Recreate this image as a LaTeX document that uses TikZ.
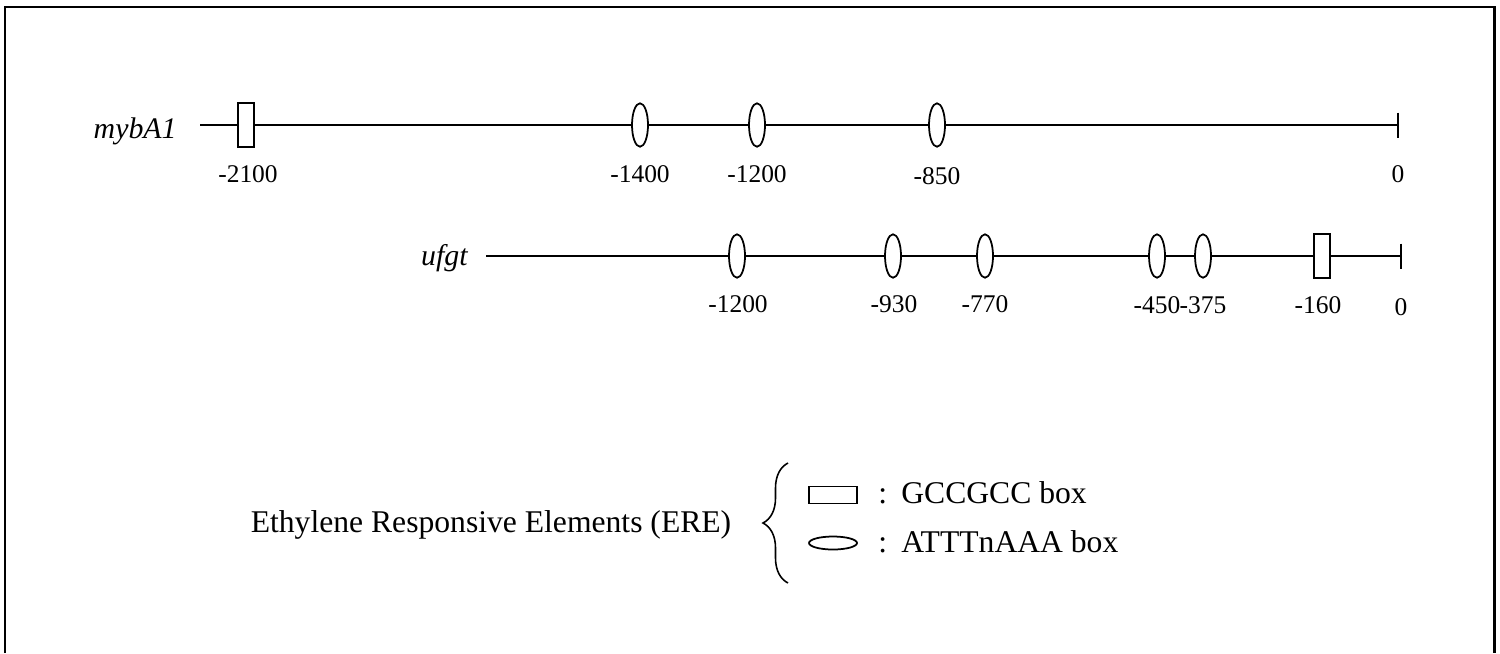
\documentclass[tikz,border=0pt]{standalone}
\usepackage{fontspec}
\setmainfont{Liberation Serif}
\usetikzlibrary{shapes.geometric,decorations.pathreplacing}

\begin{document}
\begin{tikzpicture}[x=0.02cm,y=-0.02cm,
  ere oval/.style={draw,line width=1pt,fill=white,ellipse,inner sep=0pt,minimum width=0.32cm,minimum height=0.87cm},
  gc box/.style={draw,line width=1pt,fill=white,rectangle,inner sep=0pt,minimum width=0.32cm,minimum height=0.88cm},
  num/.style={anchor=base,inner sep=0pt,font=\fontsize{14.5}{17}\selectfont},
  gene/.style={anchor=base east,inner sep=0pt,font=\fontsize{17}{20}\selectfont\itshape},
  legend/.style={anchor=base west,inner sep=0pt,font=\fontsize{18}{21}\selectfont}]
\useasboundingbox (0,0) rectangle (1500,653);
\draw[line width=1.7pt] (5,653) -- (5,7) -- (1494,7) -- (1494,653);

% mybA1 promoter
\node[gene] (mybA) at (177,138) {mybA1};
\coordinate (mstart) at (200,125);
\coordinate (mend) at (1398,125);
\node[gc box] (m2100) at (246,125) {};
\node[ere oval] (m1400) at (640,125) {};
\node[ere oval] (m1200) at (757,125) {};
\node[ere oval] (m850) at (937,125) {};
\draw[line width=1.1pt] (mstart) -- (m2100) -- (m1400) -- (m1200) -- (m850) -- (mend);
\draw[line width=1.1pt] (mend) ++(0,-12.5) -- ++(0,25);
\node[num] (lm2100) at (248,182) {-2100};
\node[num] (lm1400) at (640,182) {-1400};
\node[num] (lm1200) at (757,182) {-1200};
\node[num] (lm850) at (937,184) {-850};
\node[num] (lm0) at (1398,182) {0};

% ufgt promoter
\node[gene] (ufgt) at (468,265) {ufgt};
\coordinate (ustart) at (486,256);
\coordinate (uend) at (1401,256);
\node[ere oval] (u1200) at (737,256) {};
\node[ere oval] (u930) at (893,256) {};
\node[ere oval] (u770) at (985,256) {};
\node[ere oval] (u450) at (1157,256) {};
\node[ere oval] (u375) at (1203,256) {};
\node[gc box] (u160) at (1322,256) {};
\draw[line width=1.1pt] (ustart) -- (u1200) -- (u930) -- (u770) -- (u450) -- (u375) -- (u160) -- (uend);
\draw[line width=1.1pt] (uend) ++(0,-12.5) -- ++(0,25);
\node[num] (lu1200) at (738,312) {-1200};
\node[num] (lu930) at (894,312) {-930};
\node[num] (lu770) at (985,312) {-770};
\node[num] (lu450) at (1157,313) {-450};
\node[num] (lu375) at (1203,313) {-375};
\node[num] (lu160) at (1318,313) {-160};
\node[num] (lu0) at (1401,315) {0};

% legend
\node[legend,anchor=base] (ere) at (491,532) {Ethylene Responsive Elements (ERE)};
\coordinate (bbot) at (788,583);
\coordinate (btop) at (788,463);
\draw[line width=0.9pt,decorate,decoration={brace,amplitude=0.5cm}] (bbot) -- (btop);
\node[draw,line width=1pt,inner sep=0pt,minimum width=0.96cm,minimum height=0.34cm] (kbox) at (833,495) {};
\node[draw,line width=1pt,ellipse,inner sep=0pt,minimum width=0.96cm,minimum height=0.26cm] (koval) at (833,543) {};
\node[legend] (kboxtxt) at (878,503) {:\hspace{0.45em}GCCGCC box};
\node[legend] (kovaltxt) at (878,552) {:\hspace{0.45em}ATTTnAAA box};
\end{tikzpicture}
\end{document}
